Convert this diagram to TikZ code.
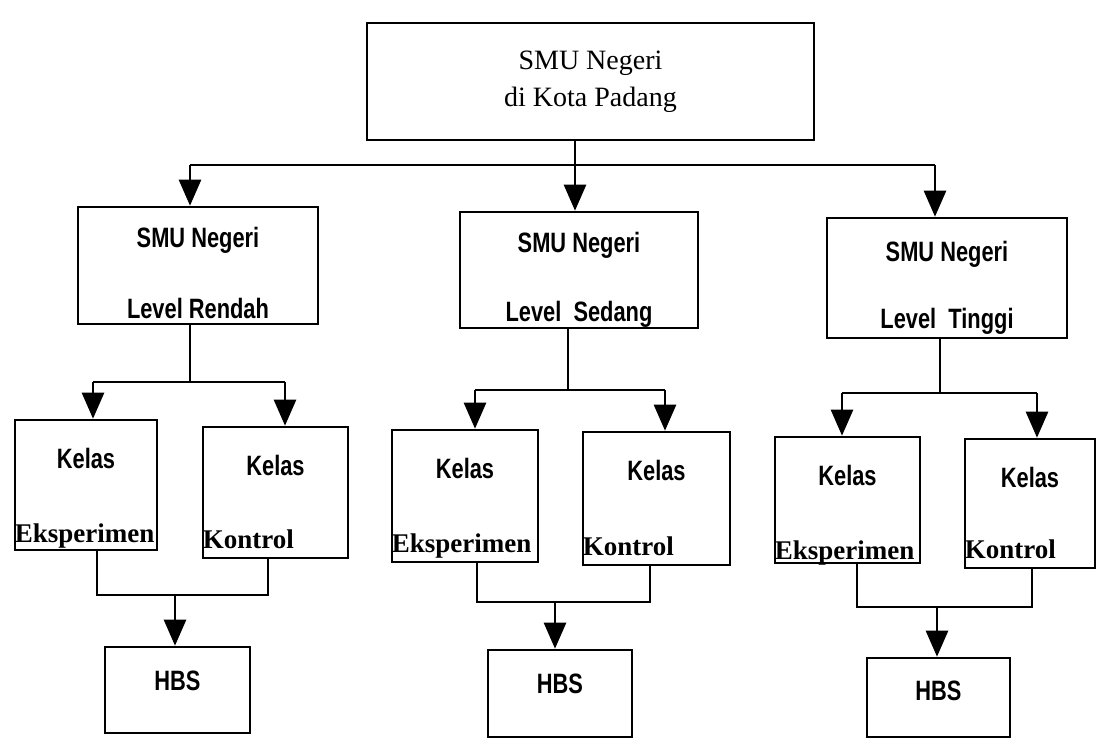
\documentclass[tikz,border=0pt]{standalone}
\usepackage{fontspec}
\setmainfont{Liberation Serif}
\newfontfamily\nsans{Liberation Sans}[FakeStretch=0.78]
\usetikzlibrary{arrows.meta}
\tikzset{
  box/.style={draw, line width=2.6pt, inner sep=0pt, rectangle},
  conn/.style={line width=2.6pt},
  arr/.style={line width=2.6pt, -{Triangle[length=26pt,width=22pt]}},
  sanslbl/.style={font=\nsans\bfseries\fontsize{28}{30}\selectfont, inner sep=0pt},
  seriflbl/.style={font=\bfseries\fontsize{27}{30}\selectfont, inner sep=0pt},
  toplbl/.style={font=\fontsize{28}{37}\selectfont, align=center},
}
\begin{document}
\begin{tikzpicture}[x=1pt,y=-1pt]
\useasboundingbox[fill=white] (0,0) rectangle (1098,739);

% top box
\node[box, toplbl, minimum width=447pt, minimum height=117pt] (top) at (590.5,81.5) {SMU Negeri\\di Kota Padang};

% level boxes
\node[box, minimum width=240pt, minimum height=117pt] (lvL) at (198,265.5) {};
\node[box, minimum width=238pt, minimum height=116pt] (lvM) at (579,270) {};
\node[box, minimum width=240pt, minimum height=120pt] (lvR) at (947,278) {};
\node[sanslbl] (lvLa) at ([yshift=-35pt]lvL.north) {SMU Negeri};
\node[sanslbl] (lvLb) at ([yshift=17pt]lvL.south) {Level Rendah};
\node[sanslbl] (lvMa) at ([yshift=-35pt]lvM.north) {SMU Negeri};
\node[sanslbl] (lvMb) at ([yshift=15pt]lvM.south) {Level\ \ Sedang};
\node[sanslbl] (lvRa) at ([yshift=-38pt]lvR.north) {SMU Negeri};
\node[sanslbl] (lvRb) at ([yshift=18pt]lvR.south) {Level\ \ Tinggi};

% kelas boxes
\node[box, minimum width=142pt, minimum height=130pt] (ekL) at (86,485) {};
\node[box, minimum width=145pt, minimum height=131pt] (koL) at (275.5,492.5) {};
\node[box, minimum width=146pt, minimum height=132pt] (ekM) at (465,496) {};
\node[box, minimum width=147pt, minimum height=133pt] (koM) at (656.5,498.5) {};
\node[box, minimum width=145pt, minimum height=126pt] (ekR) at (847.5,500) {};
\node[box, minimum width=130pt, minimum height=129pt] (koR) at (1030,503.5) {};
\foreach \b in {ekL,koL,ekM,koM,ekR,koR}{
  \node[sanslbl] (\b a) at ([yshift=-40pt]\b.north) {Kelas};
}
\node[seriflbl, anchor=base west] (ekLb) at ([xshift=1pt,yshift=9pt]ekL.south west) {Eksperimen};
\node[seriflbl, anchor=base west] (koLb) at ([xshift=1pt,yshift=11pt]koL.south west) {Kontrol};
\node[seriflbl, anchor=base west] (ekMb) at ([xshift=1pt,yshift=11pt]ekM.south west) {Eksperimen};
\node[seriflbl, anchor=base west] (koMb) at ([xshift=1pt,yshift=11pt]koM.south west) {Kontrol};
\node[seriflbl, anchor=base west] (ekRb) at ([xshift=1pt,yshift=5pt]ekR.south west) {Eksperimen};
\node[seriflbl, anchor=base west] (koRb) at ([xshift=1pt,yshift=11pt]koR.south west) {Kontrol};

% HBS boxes
\node[box, minimum width=145pt, minimum height=86pt] (hbL) at (177.5,690) {};
\node[box, minimum width=144pt, minimum height=87pt] (hbM) at (560,693.5) {};
\node[box, minimum width=143pt, minimum height=79pt] (hbR) at (938.5,697.5) {};
\node[sanslbl] (hbLa) at ([yshift=-35pt]hbL.north) {HBS};
\node[sanslbl] (hbMa) at ([yshift=-35pt]hbM.north) {HBS};
\node[sanslbl] (hbRa) at ([yshift=-34pt]hbR.north) {HBS};

% junction coordinates
\coordinate (jL) at (190,165);
\coordinate (jM) at (575,165);
\coordinate (jR) at (935,165);
\coordinate (bL) at (190,382); \coordinate (kL1) at (93,382); \coordinate (kL2) at (285,382);
\coordinate (bM) at (568,390); \coordinate (kM1) at (475,390); \coordinate (kM2) at (665,390);
\coordinate (bR) at (940,393); \coordinate (kR1) at (842,393); \coordinate (kR2) at (1037,393);
\coordinate (mL1) at (97,595); \coordinate (mL2) at (268,595); \coordinate (cL) at (175,595);
\coordinate (mM1) at (477,602); \coordinate (mM2) at (650,602); \coordinate (cM) at (555,602);
\coordinate (mR1) at (857,607); \coordinate (mR2) at (1032,607); \coordinate (cR) at (937,607);

% top level connectors
\draw[conn] (jL) -- (jR);
\draw[arr] (top.south -| jM) -- (jM |- lvM.north);
\draw[arr] (jL) -- (jL |- lvL.north);
\draw[arr] (jR) -- (jR |- lvR.north);

% left group
\draw[conn] (lvL.south -| bL) -- (bL);
\draw[conn] (kL1) -- (kL2);
\draw[arr] (kL1) -- (kL1 |- ekL.north);
\draw[arr] (kL2) -- (kL2 |- koL.north);
\draw[conn] (ekL.south -| mL1) -- (mL1) -- (mL2) -- (koL.south -| mL2);
\draw[arr] (cL) -- (cL |- hbL.north);

% middle group
\draw[conn] (lvM.south -| bM) -- (bM);
\draw[conn] (kM1) -- (kM2);
\draw[arr] (kM1) -- (kM1 |- ekM.north);
\draw[arr] (kM2) -- (kM2 |- koM.north);
\draw[conn] (ekM.south -| mM1) -- (mM1) -- (mM2) -- (koM.south -| mM2);
\draw[arr] (cM) -- (cM |- hbM.north);

% right group
\draw[conn] (lvR.south -| bR) -- (bR);
\draw[conn] (kR1) -- (kR2);
\draw[arr] (kR1) -- (kR1 |- ekR.north);
\draw[arr] (kR2) -- (kR2 |- koR.north);
\draw[conn] (ekR.south -| mR1) -- (mR1) -- (mR2) -- (koR.south -| mR2);
\draw[arr] (cR) -- (cR |- hbR.north);
\end{tikzpicture}
\end{document}
